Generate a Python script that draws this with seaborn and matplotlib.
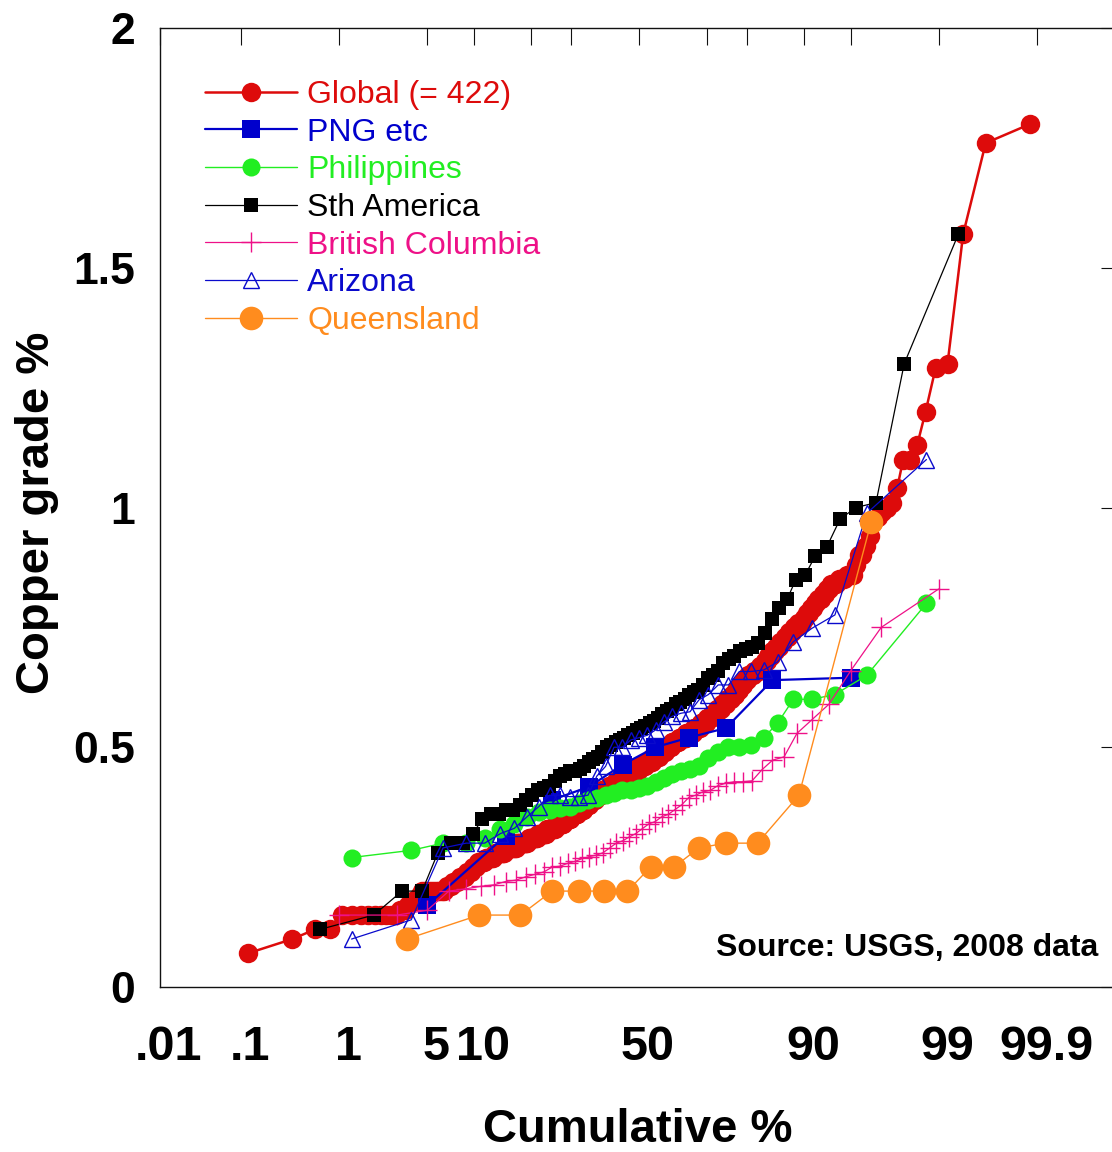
import numpy as np
import pandas as pd
import matplotlib
matplotlib.use("Agg")
import matplotlib.pyplot as plt
import matplotlib.transforms as mtrans
from matplotlib.ticker import FixedLocator, FixedFormatter, NullFormatter
import seaborn as sns
from statistics import NormalDist

# ---------------- data (copper grade %, sorted; plotted at (rank-0.5)/n) ----------------
global_grade_levels = [0.07, 0.10, 0.12, 0.15, 0.16, 0.17, 0.18, 0.19, 0.20, 0.21, 0.22, 0.23,
                       0.24, 0.25, 0.26, 0.27, 0.28, 0.29, 0.30, 0.31, 0.32, 0.33, 0.34, 0.35,
                       0.36, 0.37, 0.38, 0.39, 0.40, 0.41, 0.42, 0.43, 0.44, 0.45, 0.46, 0.47,
                       0.48, 0.49, 0.50, 0.51, 0.52, 0.53, 0.54, 0.55, 0.56, 0.57, 0.58, 0.59,
                       0.60, 0.61, 0.62, 0.63, 0.64, 0.65, 0.66, 0.67, 0.68, 0.69, 0.70, 0.71,
                       0.72, 0.73, 0.74, 0.75, 0.76, 0.77, 0.78, 0.79, 0.80, 0.81, 0.82, 0.83,
                       0.84, 0.85, 0.86, 0.88, 0.90, 0.92, 0.94, 0.97, 0.98, 0.99, 1.00, 1.01,
                       1.04, 1.10, 1.13, 1.20, 1.29, 1.30, 1.57, 1.76, 1.80]
global_grade_counts = [1, 1, 2, 9, 2, 1, 2, 1, 9, 3, 3, 4,
                       3, 3, 5, 6, 8, 9, 10, 9, 9, 9, 9, 8,
                       8, 7, 7, 7, 8, 9, 9, 10, 10, 9, 9, 9,
                       9, 8, 8, 9, 9, 9, 8, 7, 6, 6, 5, 5,
                       5, 4, 4, 4, 4, 5, 5, 4, 3, 3, 3, 3,
                       3, 3, 3, 3, 3, 2, 2, 2, 2, 2, 2, 2,
                       3, 3, 3, 1, 2, 1, 1, 1, 1, 1, 1, 1,
                       1, 2, 1, 1, 1, 1, 1, 1, 1]

png_grades = [0.17, 0.315, 0.39, 0.418, 0.464, 0.50, 0.52, 0.54, 0.64, 0.645]

philippines_grades = [0.27, 0.285, 0.30, 0.30, 0.31, 0.33, 0.34, 0.355, 0.365, 0.37,
                      0.373, 0.375, 0.383, 0.39, 0.394, 0.40, 0.405, 0.41, 0.41, 0.415,
                      0.42, 0.428, 0.435, 0.445, 0.45, 0.455, 0.46, 0.477, 0.49, 0.50,
                      0.50, 0.505, 0.52, 0.55, 0.60, 0.60, 0.61, 0.65, 0.80]

sth_america_grades = [0.12, 0.15, 0.20, 0.20, 0.28, 0.30, 0.30, 0.32, 0.35, 0.36,
                      0.36, 0.37, 0.37, 0.38, 0.39, 0.40, 0.41, 0.415, 0.42, 0.43,
                      0.44, 0.445, 0.45, 0.45, 0.455, 0.46, 0.47, 0.475, 0.48, 0.49,
                      0.50, 0.505, 0.51, 0.515, 0.52, 0.525, 0.53, 0.535, 0.54, 0.545,
                      0.55, 0.555, 0.56, 0.57, 0.575, 0.58, 0.59, 0.595, 0.60, 0.61,
                      0.615, 0.62, 0.63, 0.645, 0.65, 0.66, 0.675, 0.685, 0.69, 0.70,
                      0.705, 0.71, 0.717, 0.738, 0.767, 0.79, 0.809, 0.849, 0.859, 0.899,
                      0.918, 0.976, 1.00, 1.01, 1.30, 1.57]

bc_grades = [0.15, 0.15, 0.16, 0.20, 0.205, 0.21, 0.213, 0.22, 0.223, 0.23,
             0.235, 0.24, 0.25, 0.252, 0.258, 0.262, 0.268, 0.272, 0.275, 0.28,
             0.29, 0.30, 0.305, 0.313, 0.32, 0.33, 0.34, 0.345, 0.355, 0.36,
             0.37, 0.38, 0.395, 0.40, 0.407, 0.41, 0.42, 0.425, 0.428, 0.428,
             0.43, 0.453, 0.473, 0.48, 0.529, 0.557, 0.59, 0.66, 0.75, 0.83]

arizona_grades = [0.10, 0.14, 0.29, 0.30, 0.30, 0.32, 0.331, 0.355, 0.376, 0.40,
                  0.40, 0.397, 0.397, 0.40, 0.44, 0.46, 0.50, 0.50, 0.515, 0.52,
                  0.525, 0.536, 0.553, 0.565, 0.571, 0.574, 0.599, 0.61, 0.63, 0.63,
                  0.658, 0.658, 0.661, 0.678, 0.72, 0.748, 0.776, 0.988, 1.10]

queensland_grades = [0.10, 0.15, 0.15, 0.20, 0.20, 0.20, 0.20, 0.25, 0.25, 0.29,
                     0.30, 0.30, 0.40, 0.97]

series_labels = ["Global (= 422)", "PNG etc", "Philippines", "Sth America",
                 "British Columbia", "Arizona", "Queensland"]

x_tick_values = [0.01, 0.1, 1, 5, 10, 50, 90, 99, 99.9]
x_tick_labels = [".01", ".1", "1", "5", "10", "50", "90", "99", "99.9"]
x_minor_values = [20, 30, 70, 80, 95]
y_tick_values = [0, 0.5, 1, 1.5, 2]
y_tick_labels = ["0", "0.5", "1", "1.5", "2"]


def cumulative_percent(grades):
    n = len(grades)
    return (np.arange(1, n + 1) - 0.5) / n * 100.0


global_grades = np.repeat(global_grade_levels, global_grade_counts)

# ---------------- styling ----------------
sns.set_style("white")
plt.rcParams["font.family"] = ["Liberation Sans", "DejaVu Sans"]
plt.rcParams["text.color"] = "black"
plt.rcParams["axes.labelcolor"] = "black"
plt.rcParams["xtick.color"] = "black"
plt.rcParams["ytick.color"] = "black"

fig = plt.figure(figsize=(11.12, 11.52), dpi=100)
ax = fig.add_axes([160 / 1112, (1152 - 987) / 1152, 958 / 1112, 959 / 1152])

styles = [
    dict(grades=global_grades, color="#DD0B0B", marker="o", ms=14, lw=1.8, mfc="#DD0B0B", mew=0),
    dict(grades=png_grades, color="#0000CC", marker="s", ms=13, lw=1.6, mfc="#0000CC", mew=0),
    dict(grades=philippines_grades, color="#22EE22", marker="o", ms=13, lw=1.0, mfc="#22EE22", mew=0),
    dict(grades=sth_america_grades, color="#000000", marker="s", ms=10.5, lw=0.9, mfc="#000000", mew=0),
    dict(grades=bc_grades, color="#EE1188", marker="+", ms=14, lw=0.9, mfc="none", mew=1.0),
    dict(grades=arizona_grades, color="#0A0ACC", marker="^", ms=12, lw=0.9, mfc="none", mew=1.0),
    dict(grades=queensland_grades, color="#FF8C1E", marker="o", ms=17, lw=1.0, mfc="#FF8C1E", mew=0),
]

for label, st in zip(series_labels, styles):
    df = pd.DataFrame({"cum": cumulative_percent(st["grades"]), "grade": st["grades"]})
    sns.lineplot(data=df, x="cum", y="grade", ax=ax, estimator=None, sort=False,
                 color=st["color"], marker=st["marker"], markersize=st["ms"],
                 linewidth=st["lw"], markerfacecolor=st["mfc"],
                 markeredgecolor=st["color"], markeredgewidth=st["mew"], label=label)

# probability (normal quantile) x scale
_nd = NormalDist()
_ppf = np.vectorize(_nd.inv_cdf, otypes=[float])
_cdf = np.vectorize(_nd.cdf, otypes=[float])


def _fwd(p):
    q = np.clip(np.asarray(p, dtype=float) / 100.0, 1e-9, 1 - 1e-9)
    return _ppf(q)


def _inv(z):
    return _cdf(np.asarray(z, dtype=float)) * 100.0


ax.set_xscale("function", functions=(_fwd, _inv))
ax.set_xlim(0.01, 99.99)
ax.set_ylim(0, 2)

ax.xaxis.set_major_locator(FixedLocator(x_tick_values))
ax.xaxis.set_major_formatter(FixedFormatter(x_tick_labels))
ax.xaxis.set_minor_locator(FixedLocator(x_minor_values))
ax.xaxis.set_minor_formatter(NullFormatter())
ax.yaxis.set_major_locator(FixedLocator(y_tick_values))
ax.yaxis.set_major_formatter(FixedFormatter(y_tick_labels))

ax.tick_params(axis="both", which="both", direction="in", top=True, right=True,
               length=12, width=0.8, color="#111111", labelcolor="black")
ax.tick_params(axis="x", which="major", pad=27, labelsize=35)
ax.tick_params(axis="y", which="major", pad=18, labelsize=32)
for t in ax.get_xticklabels() + ax.get_yticklabels():
    t.set_fontweight("bold")
offset = mtrans.ScaledTranslation(9 / 100, 0, fig.dpi_scale_trans)
for t in ax.get_xticklabels():
    t.set_transform(t.get_transform() + offset)

for sp in ax.spines.values():
    sp.set_linewidth(1.0)
    sp.set_color("#111111")

ax.set_xlabel("Cumulative %", fontsize=34, fontweight="bold", va="center", color="black")
ax.xaxis.set_label_coords((638 - 160) / 958, -(1130 - 987) / 959)
ax.set_ylabel("Copper grade %", fontsize=34, fontweight="bold", va="center", color="black")
ax.yaxis.set_label_coords(-(160 - 37) / 958, (987 - 513) / 959)

ax.text((1098 - 160) / 958, (987 - 948) / 959, "Source: USGS, 2008 data",
        transform=ax.transAxes, ha="right", va="center", fontsize=23, fontweight="bold",
        color="black")

leg = ax.legend(loc="upper left", bbox_to_anchor=(205 / 1112, 1 - 80 / 1152),
                bbox_transform=fig.transFigure, frameon=False, fontsize=23,
                handlelength=2.87, handletextpad=0.33, labelspacing=0.24,
                borderpad=0, borderaxespad=0, labelcolor="linecolor", numpoints=1)

fig.savefig("out.png", dpi=100)
